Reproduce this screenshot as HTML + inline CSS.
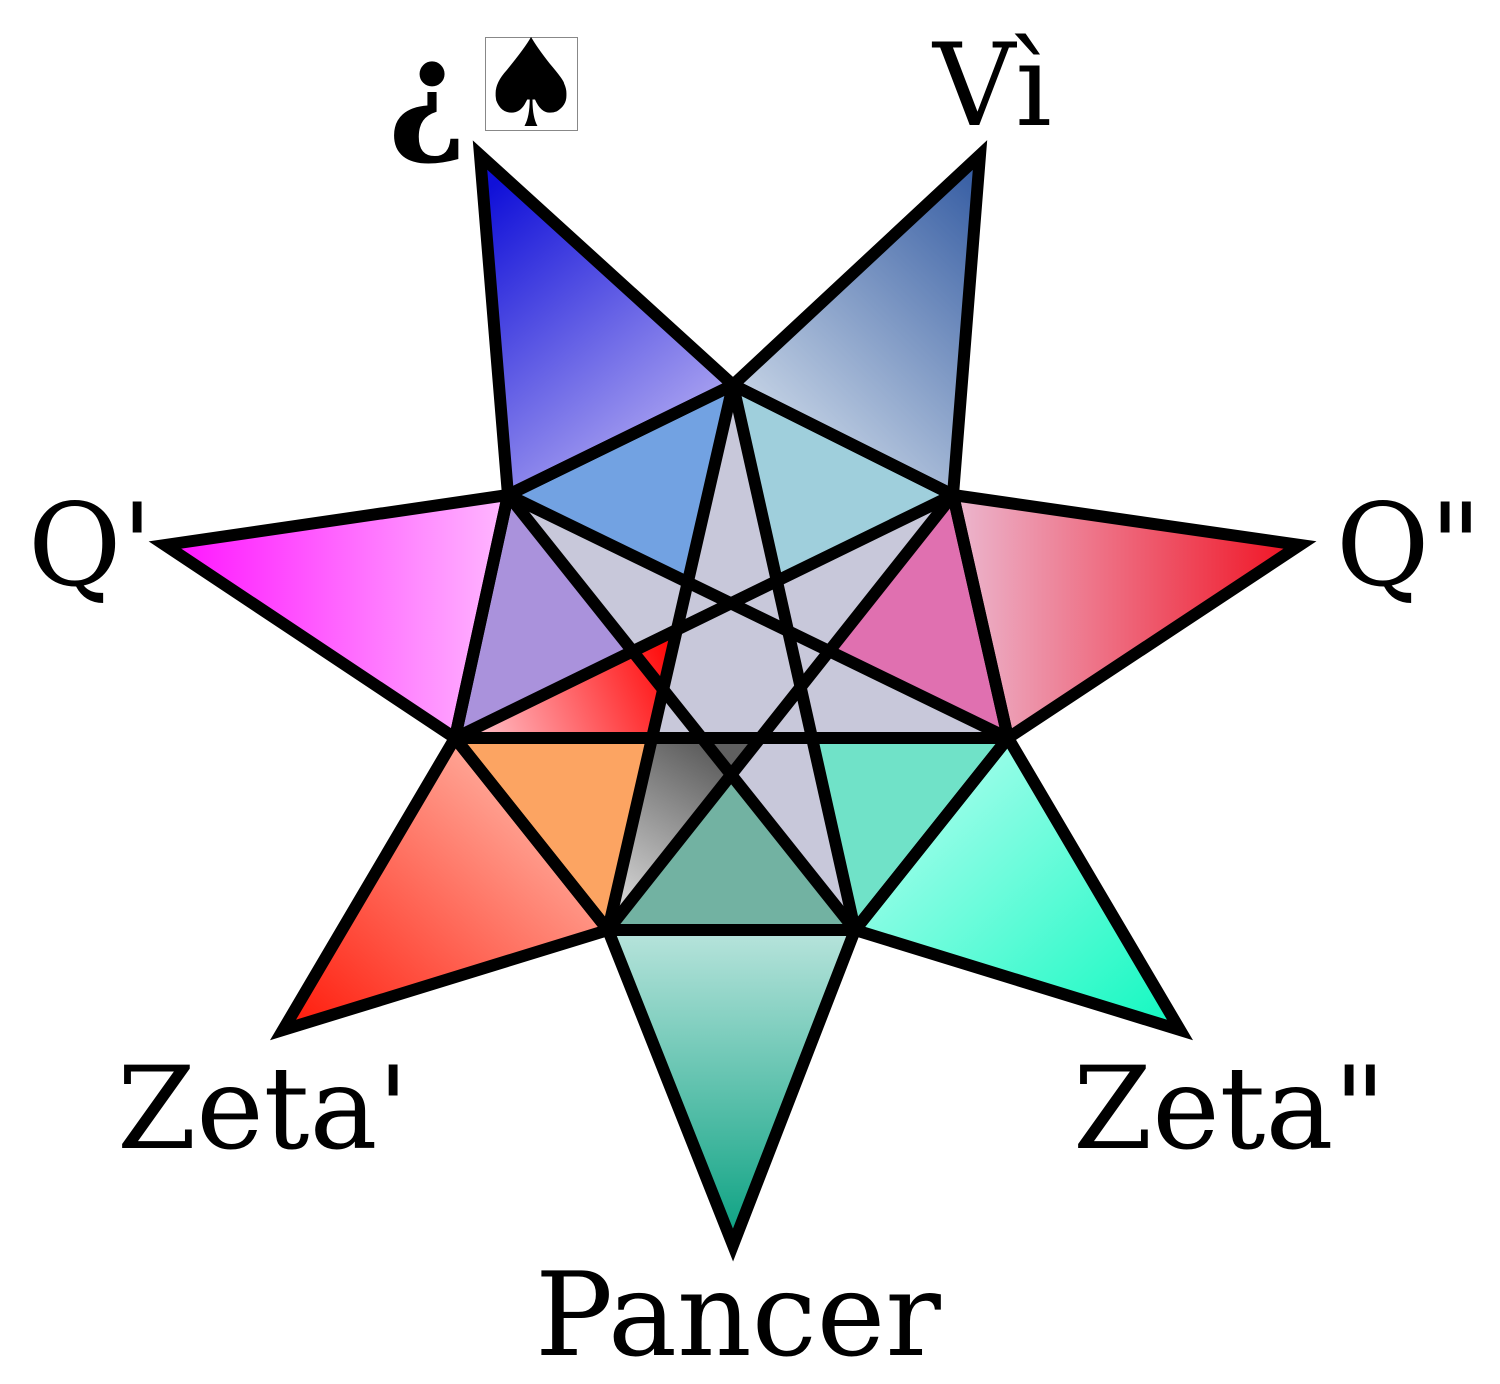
<!DOCTYPE html>
<html><head><meta charset="utf-8"><style>
html,body{margin:0;padding:0;background:#fff;}
svg{display:block}
text{font-family:"DejaVu Serif","Liberation Serif",serif;font-size:114px;fill:#000}
</style></head><body>
<svg id="s" width="1500" height="1384" viewBox="0 0 1500 1384" xmlns="http://www.w3.org/2000/svg">
<defs>
<linearGradient id="gTL" x1="0.2" y1="0" x2="0.8" y2="1"><stop offset="0" stop-color="#1010d8"/><stop offset="1" stop-color="#c0b8f4"/></linearGradient>
<linearGradient id="gTR" x1="1" y1="0" x2="0.3" y2="1"><stop offset="0" stop-color="#3058a0"/><stop offset="1" stop-color="#d0dcea"/></linearGradient>
<linearGradient id="gR" x1="1" y1="0" x2="0" y2="0"><stop offset="0" stop-color="#f01020"/><stop offset="1" stop-color="#ecb8d0"/></linearGradient>
<linearGradient id="gBR" x1="1" y1="1" x2="0" y2="0"><stop offset="0" stop-color="#10f8c0"/><stop offset="1" stop-color="#c0fff4"/></linearGradient>
<linearGradient id="gB" x1="0" y1="1" x2="0" y2="0"><stop offset="0" stop-color="#08a080"/><stop offset="1" stop-color="#b8e4dc"/></linearGradient>
<linearGradient id="gBL" x1="0" y1="1" x2="1" y2="0"><stop offset="0" stop-color="#ff1808"/><stop offset="1" stop-color="#ffd0c0"/></linearGradient>
<linearGradient id="gL" x1="0" y1="0" x2="1" y2="0"><stop offset="0" stop-color="#ff10ff"/><stop offset="1" stop-color="#ffb8ff"/></linearGradient>
<linearGradient id="gRed" x1="0" y1="0.5" x2="1" y2="0.3"><stop offset="0" stop-color="#ffc0c8"/><stop offset="1" stop-color="#ff0808"/></linearGradient>
<linearGradient id="gGray" x1="0.5" y1="0" x2="0" y2="1"><stop offset="0" stop-color="#606060"/><stop offset="1" stop-color="#e8e8e8"/></linearGradient>
</defs>
<g id="fills"></g>
<g id="lines" fill="none" stroke="#000" stroke-width="12" stroke-linejoin="miter"></g>
<text x="388" y="137" style="font-size:135px;font-weight:bold">¿</text>
<rect x="485.5" y="37.5" width="92" height="93" fill="#fff" stroke="#888" stroke-width="1"/>
<text x="531" y="126" text-anchor="middle" style="font-size:122px">♠</text>
<text x="933" y="125">Vì</text>
<text x="28" y="585">Q'</text>
<text x="1336" y="585">Q"</text>
<text x="117" y="1148">Zeta'</text>
<text x="1073" y="1148">Zeta"</text>
<text x="535" y="1355" style="font-size:116px">Pancer</text>
</svg>
<script>
var NS="http://www.w3.org/2000/svg";
var V=[[733,385],[953,495],[1008,738],[855,930],[608,930],[455,738],[508,495]];
var O=[[980,155],[1300,545],[1180,1030],[733,1245],[283,1030],[165,545],[480,155]];
var spikeG=["gTR","gR","gBR","gB","gBL","gL","gTL"];
var edgeC=["#9fcfdc","#e070b0","#70e2c8","#72b2a2","#fca462","#aa92dc","#72a2e2"];
var F=document.getElementById("fills"),L=document.getElementById("lines");
function poly(pts,fill,par){var p=document.createElementNS(NS,"polygon");p.setAttribute("points",pts.map(function(a){return a.join(",")}).join(" "));if(fill!=null)p.setAttribute("fill",fill);par.appendChild(p);return p;}
function isect(a,b,c,d){var r=[b[0]-a[0],b[1]-a[1]],s=[d[0]-c[0],d[1]-c[1]];var den=r[0]*s[1]-r[1]*s[0];var t=((c[0]-a[0])*s[1]-(c[1]-a[1])*s[0])/den;return [a[0]+t*r[0],a[1]+t*r[1]];}
poly(V,"#c8c8da",F);
for(var i=0;i<7;i++){
 var a=V[i],b=V[(i+1)%7];
 var X=isect(a,V[(i+3)%7],b,V[(i+5)%7]);
 poly([a,b,X],edgeC[i],F);
 poly([a,O[i],b],"url(#"+spikeG[i]+")",F);
}
// accent triangles using actual intersections
var r1=isect(V[5],V[1],V[4],V[0]);
var r2=isect(V[5],V[2],V[4],V[0]);
poly([V[5],r1,r2],"url(#gRed)",F);
var g1=isect(V[5],V[2],V[4],V[0]);
var g2=isect(V[5],V[2],V[4],V[1]);
var g3=isect(V[4],V[0],V[4],V[1]);
poly([g1,g2,V[4]],"url(#gGray)",F);
for(var i=0;i<7;i++){
 var a=V[i],b=V[(i+1)%7];
 poly([a,O[i],b],null,L);
 var l=document.createElementNS(NS,"line");
 l.setAttribute("x1",a[0]);l.setAttribute("y1",a[1]);
 var c=V[(i+3)%7];l.setAttribute("x2",c[0]);l.setAttribute("y2",c[1]);L.appendChild(l);
}
poly(V,null,L);
</script>
</body></html>
